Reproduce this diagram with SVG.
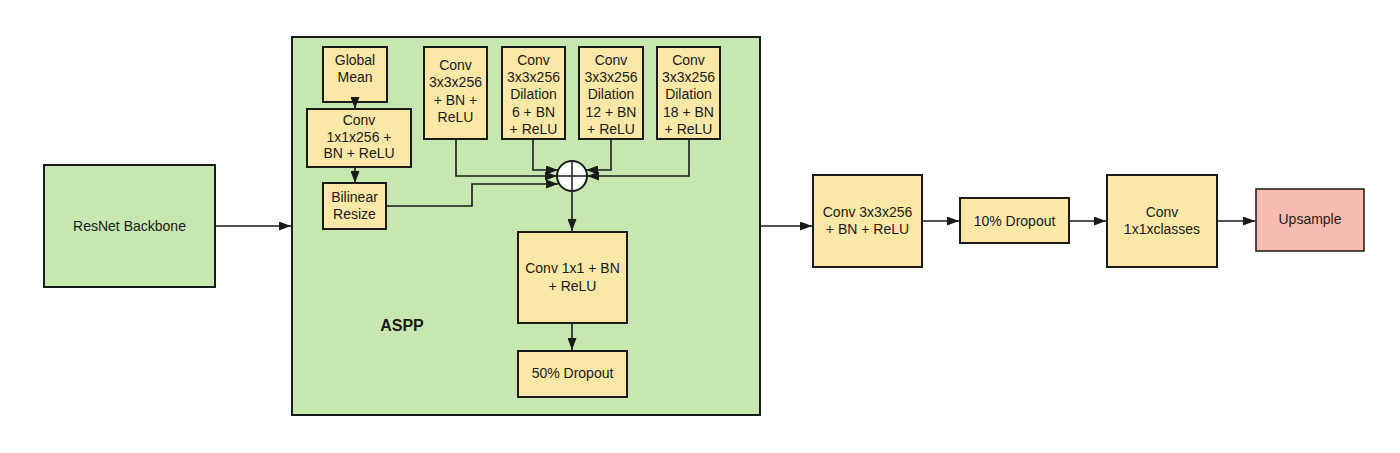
<svg xmlns="http://www.w3.org/2000/svg" width="1400" height="453" viewBox="0 0 1400 453">
<style>
.g{fill:#c6e8b0;stroke:#1a1a1a;stroke-width:2}
.y{fill:#fbe8a6;stroke:#1a1a1a;stroke-width:2}
.p{fill:#f8bcb3;stroke:#1a1a1a;stroke-width:1.5}
text{font-family:"Liberation Sans",Arial,sans-serif;font-size:14px;fill:#1a1a1a;text-anchor:middle}
.b{font-weight:bold;font-size:16px}
.c{fill:none;stroke:#1a1a1a;stroke-width:1.6}
</style>
<defs>
<marker id="a" viewBox="0 0 12 9" refX="12" refY="4.5" markerWidth="12" markerHeight="9" markerUnits="userSpaceOnUse" orient="auto"><path d="M0,0L12,4.5L0,9z" fill="#1a1a1a"/></marker>
</defs>
<rect width="1400" height="453" fill="#fff"/>
<g id="aspp"><rect class="g" x="292" y="37" width="468" height="378"/><text class="b" x="402" y="331">ASPP</text></g>
<g id="resnet"><rect class="g" x="44" y="165" width="171" height="122" stroke-width="1.5"/><text x="129.5" y="231">ResNet Backbone</text></g>
<g id="gmean"><rect class="y" x="323" y="47" width="64" height="55"/><text x="355" y="65">Global<tspan x="355" dy="17">Mean</tspan></text></g>
<g id="conv1x1x256"><rect class="y" x="307" y="109" width="104" height="58"/><text x="359" y="125">Conv<tspan x="359" dy="16.5">1x1x256 +</tspan><tspan x="359" dy="16.5">BN + ReLU</tspan></text></g>
<g id="bilinear"><rect class="y" x="323" y="183" width="63" height="46"/><text x="354.5" y="202">Bilinear<tspan x="354.5" dy="16.5">Resize</tspan></text></g>
<g id="conv3"><rect class="y" x="424" y="47" width="63" height="92"/><text x="455.5" y="70">Conv<tspan x="455.5" dy="17.3">3x3x256</tspan><tspan x="455.5" dy="17.3">+ BN +</tspan><tspan x="455.5" dy="17.3">ReLU</tspan></text></g>
<g id="conv6"><rect class="y" x="502" y="47" width="63" height="92"/><text x="533.5" y="65">Conv<tspan x="533.5" dy="17.2">3x3x256</tspan><tspan x="533.5" dy="17.2">Dilation</tspan><tspan x="533.5" dy="17.2">6 + BN</tspan><tspan x="533.5" dy="17.2">+ ReLU</tspan></text></g>
<g id="conv12"><rect class="y" x="579" y="47" width="64" height="92"/><text x="611" y="65">Conv<tspan x="611" dy="17.2">3x3x256</tspan><tspan x="611" dy="17.2">Dilation</tspan><tspan x="611" dy="17.2">12 + BN</tspan><tspan x="611" dy="17.2">+ ReLU</tspan></text></g>
<g id="conv18"><rect class="y" x="657" y="47" width="63" height="92"/><text x="688.5" y="65">Conv<tspan x="688.5" dy="17.2">3x3x256</tspan><tspan x="688.5" dy="17.2">Dilation</tspan><tspan x="688.5" dy="17.2">18 + BN</tspan><tspan x="688.5" dy="17.2">+ ReLU</tspan></text></g>
<g id="sum"><circle cx="572" cy="176" r="15" fill="#fff" stroke="#1a1a1a" stroke-width="2"/><path d="M557,176H587M572,161V191" stroke="#1a1a1a" stroke-width="1.5"/></g>
<g id="conv1x1"><rect class="y" x="518" y="232" width="109" height="91"/><text x="572.5" y="273">Conv 1x1 + BN<tspan x="572.5" dy="17.5">+ ReLU</tspan></text></g>
<g id="drop50"><rect class="y" x="518" y="351" width="109" height="46"/><text x="572.5" y="378">50% Dropout</text></g>
<g id="conv3r"><rect class="y" x="813" y="175" width="109" height="92"/><text x="867.5" y="217">Conv 3x3x256<tspan x="867.5" dy="17">+ BN + ReLU</tspan></text></g>
<g id="drop10"><rect class="y" x="960" y="198" width="109" height="45"/><text x="1014.5" y="225.5">10% Dropout</text></g>
<g id="convcls"><rect class="y" x="1107" y="175" width="110" height="92"/><text x="1162" y="217">Conv<tspan x="1162" dy="16.5">1x1xclasses</tspan></text></g>
<g id="upsample"><rect class="p" x="1256" y="189" width="108" height="62"/><text x="1310" y="224">Upsample</text></g>
<g id="connectors">
<path class="c" d="M215,226H291" marker-end="url(#a)"/>
<path class="c" d="M355,102V109" marker-end="url(#a)"/>
<path class="c" d="M355,167V183" marker-end="url(#a)"/>
<path class="c" d="M456,139V176H557" marker-end="url(#a)"/>
<path class="c" d="M533,139V170H558" marker-end="url(#a)"/>
<path class="c" d="M386,206H472V184H558" marker-end="url(#a)"/>
<path class="c" d="M611,139V170H586" marker-end="url(#a)"/>
<path class="c" d="M689,139V176H587" marker-end="url(#a)"/>
<path class="c" d="M572,191V231" marker-end="url(#a)"/>
<path class="c" d="M572,323V350" marker-end="url(#a)"/>
<path class="c" d="M760,226H812" marker-end="url(#a)" stroke-width="2"/>
<path class="c" d="M922,221H959" marker-end="url(#a)"/>
<path class="c" d="M1069,221H1106" marker-end="url(#a)"/>
<path class="c" d="M1217,221H1255" marker-end="url(#a)"/>
</g>
</svg>
